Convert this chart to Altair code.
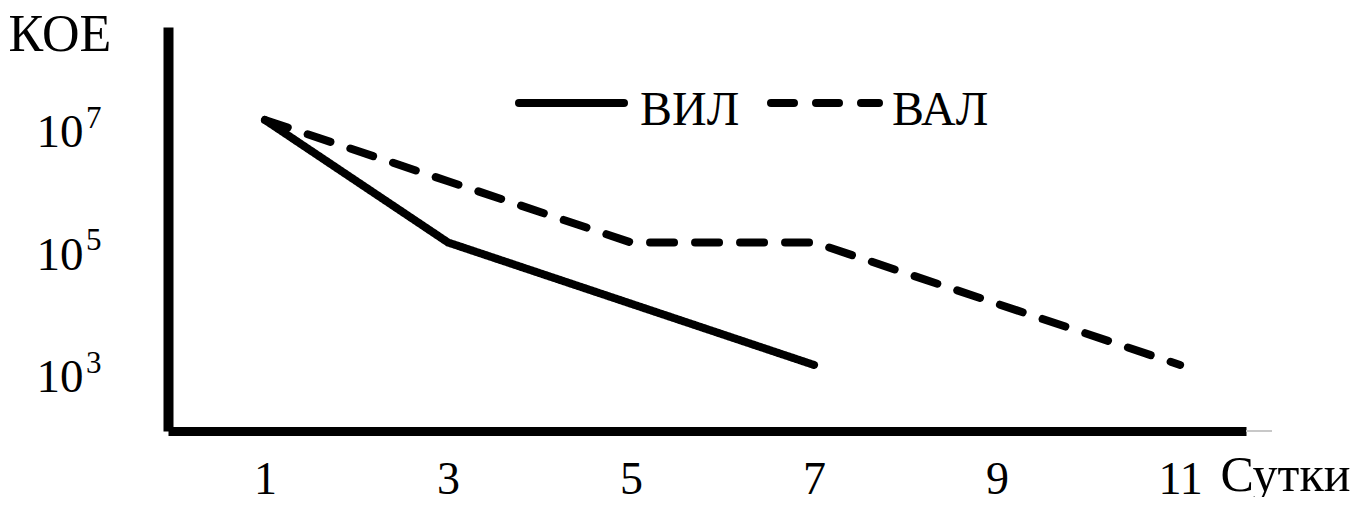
import altair as alt
import pandas as pd

# ---- data ----
series = ["ВИЛ", "ВАЛ"]
days_vil = [1, 3, 5, 7]
cfu_vil = [1e7, 1e5, 1e4, 1e3]
days_val = [1, 3, 5, 7, 9, 11]
cfu_val = [1e7, 1e6, 1e5, 1e5, 1e4, 1e3]
x_ticks = [1, 3, 5, 7, 9, 11]
y_ticks = [1e3, 1e5, 1e7]
x_title = "Сутки"
y_title = "КОЕ"

df = pd.DataFrame({
    "day": days_vil + days_val,
    "cfu": cfu_vil + cfu_val,
    "series": [series[0]] * len(days_vil) + [series[1]] * len(days_val),
})
ticks_df = pd.DataFrame({"cfu": y_ticks})

FONT = "Liberation Serif"
W, H = 1078, 404

x_scale = alt.Scale(domain=[-0.06, 11.72], nice=False, zero=False)
y_scale = alt.Scale(type="log", domain=[10 ** 1.922, 10 ** 8.518], nice=False)

x = alt.X(
    "day:Q",
    scale=x_scale,
    axis=alt.Axis(
        values=x_ticks, title=x_title, grid=False, ticks=False,
        domainColor="black", domainWidth=9,
        labelFont=FONT, labelFontSize=46, labelColor="black",
        labelPadding=26, labelBaseline="top",
        titleFont=FONT, titleFontSize=50, titleFontWeight="normal", titleColor="black",
        titleAlign="left", titleBaseline="alphabetic", titleX=1052, titleY=59,
    ),
)
y = alt.Y(
    "cfu:Q",
    scale=y_scale,
    axis=alt.Axis(
        values=y_ticks, title=y_title, grid=False, ticks=False,
        domainColor="black", domainWidth=10,
        labelFont=FONT, labelFontSize=47, labelColor="black",
        labelPadding=85, labelBaseline="alphabetic", labelOffset=27,
        labelExpr="'10'",
        titleFont=FONT, titleFontSize=52, titleFontWeight="normal", titleColor="black",
        titleAngle=0, titleAlign="left", titleBaseline="alphabetic", titleX=-160, titleY=23,
    ),
)

lines = alt.Chart(df).mark_line(
    strokeWidth=8, strokeCap="round", strokeJoin="round", color="black"
).encode(
    x=x, y=y,
    strokeDash=alt.StrokeDash(
        "series:N",
        scale=alt.Scale(domain=series, range=[[1, 0], [24, 21]]),
        legend=None,
    ),
)

# exponents of the y tick labels (10^n), drawn as superscripts
exps = alt.Chart(ticks_df).transform_calculate(
    exp="format(round(log(datum.cfu) / LN10), 'd')"
).mark_text(
    font=FONT, fontSize=31, align="left", baseline="alphabetic", color="black", dy=8
).encode(
    x=alt.value(-82),
    y=alt.Y("cfu:Q", scale=y_scale),
    text="exp:N",
)

one = pd.DataFrame({"a": [0]})
leg_solid = alt.Chart(one).mark_rule(strokeWidth=8, strokeCap="round", color="black").encode(
    x=alt.value(351), x2=alt.value(456), y=alt.value(76)
)
leg_dash = alt.Chart(one).mark_rule(
    strokeWidth=8, strokeCap="round", color="black", strokeDash=[23, 22]
).encode(x=alt.value(603), x2=alt.value(711), y=alt.value(76))
leg_t1 = alt.Chart(one).mark_text(
    font=FONT, fontSize=48, align="left", baseline="alphabetic", color="black"
).encode(x=alt.value(472), y=alt.value(98), text=alt.value(series[0]))
leg_t2 = alt.Chart(one).mark_text(
    font=FONT, fontSize=48, align="left", baseline="alphabetic", color="black"
).encode(x=alt.value(724), y=alt.value(98), text=alt.value(series[1]))
ext = alt.Chart(one).mark_rule(color="#c8c8c8", strokeWidth=2).encode(
    x=alt.value(W), x2=alt.value(W + 26), y=alt.value(H)
)

chart = alt.layer(lines, exps, leg_solid, leg_dash, leg_t1, leg_t2, ext).properties(
    width=W, height=H,
    autosize=alt.AutoSizeParams(type="none"),
    padding={"left": 160, "top": 19, "right": 116, "bottom": 66},
).configure(background="white").configure_view(strokeWidth=0, stroke="transparent")

chart.save("out.html", embed_options={"renderer": "svg", "actions": False})
